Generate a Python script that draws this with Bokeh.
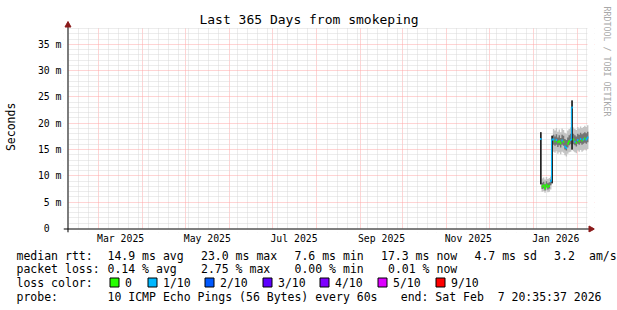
import pandas as pd
from bokeh.plotting import figure
from bokeh.layouts import column
from bokeh.models import Range1d, FixedTicker, LinearAxis, ColumnDataSource
from bokeh.core.properties import value
from bokeh.embed import file_html
from bokeh.resources import INLINE

# ---------------- data ----------------
graph_start = "2025-02-07 20:35:37"
graph_end = "2026-02-07 20:35:37"
y_max = 38

step_starts = list(pd.date_range("2026-01-05 12:00", "2026-02-07 12:00", freq="D"))
median_ms = [17.0,
             8.0, 8.2, 7.6, 8.3, 7.9, 8.1, 9.0,
             16.9,
             16.9, 16.6, 16.8, 16.4, 16.6, 16.2, 16.7, 16.5, 15.6, 15.3, 16.1, 16.6, 16.8,
             23.0,
             16.9, 16.5, 16.3, 16.8, 16.6, 17.0, 16.7, 16.9, 17.1, 16.9, 17.3]
loss_idx = [1,
            0, 0, 0, 0, 0, 0, 1,
            1,
            1, 0, 1, 0, 0, 0, 1, 0, 1, 1, 0, 0, 1,
            1,
            0, 1, 0, 1, 0, 1, 0, 1, 0, 1, 1]
smoke_lo = [8.4,
            7.0, 7.1, 6.8, 7.2, 6.9, 7.0, 7.4,
            8.6,
            14.6, 14.4, 14.7, 14.2, 14.5, 14.1, 14.6, 14.4, 13.9, 13.7, 14.2, 14.5, 14.6,
            15.0,
            14.7, 14.5, 14.3, 14.8, 14.6, 14.9, 14.6, 14.8, 15.0, 14.8, 15.1]
smoke_hi = [18.3,
            9.5, 9.7, 9.3, 9.8, 9.4, 9.6, 9.9,
            17.6,
            18.9, 18.6, 19.1, 18.4, 18.8, 18.3, 19.0, 18.7, 18.2, 18.0, 18.6, 18.9, 19.2,
            24.3,
            19.2, 18.9, 18.7, 19.3, 19.0, 19.4, 19.1, 19.3, 19.5, 19.3, 19.6]
core_lo = [8.4,
           7.5, 7.6, 7.2, 7.8, 7.4, 7.6, 8.2,
           8.6,
           15.9, 15.7, 15.9, 15.5, 15.8, 15.4, 15.9, 15.7, 15.0, 14.8, 15.4, 15.8, 16.0,
           15.0,
           16.0, 15.8, 15.6, 16.1, 15.9, 16.2, 15.9, 16.1, 16.3, 16.1, 16.4]
core_hi = [18.3,
           8.7, 8.9, 8.4, 9.0, 8.6, 8.8, 9.3,
           17.6,
           17.8, 17.5, 17.9, 17.3, 17.7, 17.2, 17.8, 17.6, 17.0, 16.8, 17.3, 17.7, 18.0,
           24.3,
           18.0, 17.7, 17.5, 18.0, 17.8, 18.2, 17.9, 18.1, 18.3, 18.1, 18.4]
wide_starts = ["2026-01-05 12:00", "2026-01-13 12:00", "2026-01-27 12:00"]
wide_lo = [8.4, 8.6, 15.0]
wide_hi = [18.3, 17.6, 24.3]

loss_colors = ['#26ff00', '#00b8ff', '#0059ff', '#5e00ff', '#7e00ff', '#dd00ff', '#ff0000']
loss_labels = ["0", "1/10", "2/10", "3/10", "4/10", "5/10", "9/10"]

y_ticks = [0, 5, 10, 15, 20, 25, 30, 35]
y_tick_labels = ["0\u00a0\u00a0", "5 m", "10 m", "15 m", "20 m", "25 m", "30 m", "35 m"]
x_label_months = ["2025-03", "2025-05", "2025-07", "2025-09", "2025-11", "2026-01"]
x_tick_labels = ["Mar 2025", "May 2025", "Jul 2025", "Sep 2025", "Nov 2025", "Jan 2026"]

title_text = "Last 365 Days from smokeping"
y_unit_text = "Seconds"
watermark_text = "RRDTOOL / TOBI OETIKER"
rtt_items = ["median rtt:", "14.9 ms avg", "23.0 ms max", "7.6 ms min",
             "17.3 ms now", "4.7 ms sd", "3.2", "am/s"]
loss_items = ["packet loss:", "0.14 % avg", "2.75 % max", "0.00 % min", "0.01 % now"]
color_head = "loss color:"
probe_items = ["probe:", "10 ICMP Echo Pings (56 Bytes) every 60s",
               "end: Sat Feb\u00a0\u00a07 20:35:37 2026"]

# ---------------- layout (canvas pixels) ----------------
W = 617
MAIN_H, LEG_H = 248, 62
PL, PR, PT, PB = 67, 587, 28, 228          # plot area
FL, FR, FT, FB = 62, 594, 0, 232           # bokeh frame
MONO = "DejaVu Sans Mono"
arrow_col = "#8b1a1a"
NB = "\u00a0"


def to_ms(t):
    return int((pd.Timestamp(t) - pd.Timestamp("1970-01-01")) / pd.Timedelta(milliseconds=1))


t0, t1 = to_ms(graph_start), to_ms(graph_end)
ms_per_px = (t1 - t0) / (PR - PL)
m_per_px = y_max / (PB - PT)


def cx(px):
    return t0 + (px - PL) * ms_per_px


def cy(py):
    return (PB - py) * m_per_px


# grid positions
month_starts = []
m = pd.Timestamp(graph_start).normalize().replace(day=1) + pd.offsets.MonthBegin(1)
while m <= pd.Timestamp(graph_end):
    month_starts.append(to_ms(m))
    m = m + pd.offsets.MonthBegin(1)
week_lines = []
gs = pd.Timestamp(graph_start)
d = gs.normalize() + pd.Timedelta(days=((5 - gs.weekday()) % 7) or 7)
while d <= pd.Timestamp(graph_end):
    v = to_ms(d)
    if all(abs(v - ms) > 86400000 for ms in month_starts):
        week_lines.append(v)
    d = d + pd.Timedelta(days=7)

label_pos = []
for ym in x_label_months:
    a = pd.Timestamp(ym + "-01")
    b = a + pd.offsets.MonthBegin(1)
    label_pos.append((to_ms(a) + to_ms(b)) // 2)

p = figure(width=W, height=MAIN_H, x_axis_type="datetime",
           x_range=Range1d(cx(FL), cx(FR)), y_range=Range1d(cy(FB), cy(FT)),
           output_backend="svg", toolbar_location=None,
           min_border_left=FL, min_border_right=W - FR,
           min_border_top=FT, min_border_bottom=MAIN_H - FB,
           background_fill_color="white", border_fill_color="white",
           outline_line_color=None, frame_align=False)

# grids
p.xgrid.ticker = FixedTicker(ticks=month_starts, minor_ticks=week_lines)
p.ygrid.ticker = FixedTicker(ticks=[v for v in range(5, y_max + 1, 5)],
                             minor_ticks=[v for v in range(1, y_max + 1) if v % 5])
for g in (p.xgrid, p.ygrid):
    g.grid_line_color = "#ffa8a8"
    g.grid_line_dash = "1 1"
    g.grid_line_width = 1
    g.minor_grid_line_color = "#d9d9d9"
    g.minor_grid_line_dash = "1 1"
    g.minor_grid_line_width = 1

# axes
xax = p.below[0]
yax = p.left[0]
xax.ticker = FixedTicker(ticks=label_pos)
xax.major_label_overrides = {v: t for v, t in zip(label_pos, x_tick_labels)}
yax.ticker = FixedTicker(ticks=y_ticks)
yax.major_label_overrides = {v: t for v, t in zip(y_ticks, y_tick_labels)}
for ax in (xax, yax):
    ax.axis_line_color = None
    ax.minor_tick_line_color = None
    ax.major_tick_line_color = None
    ax.major_tick_out = 0
    ax.major_tick_in = 0
    ax.major_label_text_font = MONO
    ax.major_label_text_font_size = "9.8px"
    ax.major_label_text_color = "black"
xax.major_label_standoff = 0
yax.major_label_standoff = FL - 60
# axis labels are centred on the frame; trailing no-break spaces shift the
# visible words to the same place as in the reference
yax.axis_label = y_unit_text + NB * 3
yax.axis_label_text_font = MONO
yax.axis_label_text_font_size = "11.5px"
yax.axis_label_text_font_style = "normal"
yax.axis_label_text_color = "black"
yax.axis_label_standoff = 17

rax = LinearAxis(ticker=FixedTicker(ticks=[]),
                 axis_label=watermark_text + NB * 22, axis_line_color=None,
                 major_tick_line_color=None, minor_tick_line_color=None,
                 major_tick_out=0, major_tick_in=0, major_label_standoff=0,
                 axis_label_standoff=7, axis_label_text_font=MONO,
                 axis_label_text_font_size="8.3px", axis_label_text_font_style="normal",
                 axis_label_text_color="#a8a8a8")
p.add_layout(rax, "right")

# white margins around the plot area (frame is larger to hold axis arrows & title)
p.quad(left=[cx(FL), cx(FL), cx(FL), t1], right=[cx(FR), cx(FR), t0, cx(FR)],
       bottom=[y_max + 0.5 * m_per_px, cy(FB), cy(FB), cy(FB)],
       top=[cy(FT), 0, cy(FT), cy(FT)], fill_color="white", line_color=None)

# data: smoke + median
starts = pd.to_datetime(step_starts)
ends = starts + pd.Timedelta(days=1)
xs_step = list(starts) + [ends[-1]]
p.varea_step(x=xs_step, y1=smoke_lo + [smoke_lo[-1]], y2=smoke_hi + [smoke_hi[-1]],
             step_mode="after", fill_color="#c4c4c4")
p.varea_step(x=xs_step, y1=core_lo + [core_lo[-1]], y2=core_hi + [core_hi[-1]],
             step_mode="after", fill_color="#747474")
ws = pd.to_datetime(wide_starts)
p.quad(left=ws, right=ws + pd.Timedelta(days=1), bottom=wide_lo, top=wide_hi,
       fill_color="#1c1c1c", line_color=None)

cols = [loss_colors[i] for i in loss_idx]
src = ColumnDataSource(dict(x0=starts, x1=ends, y=median_ms, c=cols))
p.segment(x0="x0", y0="y", x1="x1", y1="y", line_color="c", line_width=2, source=src)
# vertical joins only between consecutive steps of the same loss colour
jx, jy0, jy1, jc = [], [], [], []
for i in range(1, len(median_ms)):
    if loss_idx[i] == loss_idx[i - 1]:
        jx.append(starts[i]); jy0.append(median_ms[i - 1]); jy1.append(median_ms[i]); jc.append(cols[i])
p.segment(x0=jx, y0=jy0, x1=jx, y1=jy1, line_color=jc, line_width=1)

# axis lines with arrow heads
p.segment(x0=[cx(62), cx(66.5)], y0=[cy(228.5), cy(232)],
          x1=[cx(592), cx(66.5)], y1=[cy(228.5), cy(23)],
          line_color="black", line_width=1)
p.patches(xs=[[cx(594), cx(588.5), cx(588.5)], [cx(66.5), cx(63.5), cx(69.5)]],
          ys=[[cy(228.5), cy(225.5), cy(231.5)], [cy(21), cy(26.5), cy(26.5)]],
          fill_color=arrow_col, line_color=arrow_col)

# title
p.text(x=[cx(308)], y=[cy(19)], text=[title_text], text_font=value(MONO),
       text_font_size=value("13px"), text_align="center", text_baseline="middle",
       text_color="black")

# ---------------- legend strip ----------------
lf = figure(width=W, height=LEG_H, x_range=Range1d(0, W), y_range=Range1d(LEG_H, 0),
            output_backend="svg", toolbar_location=None,
            x_axis_location=None, y_axis_location=None,
            min_border=0, min_border_left=0, min_border_right=0,
            min_border_top=0, min_border_bottom=0,
            background_fill_color="white", border_fill_color="white",
            outline_line_color=None, frame_align=False)
lf.grid.visible = False


def ly(y):
    return y - MAIN_H


tx, ty, tt = [], [], []
for x, s in zip([16, 107, 200.5, 294, 380.5, 474, 553.6, 588.5], rtt_items):
    tx.append(x); ty.append(ly(255)); tt.append(s)
for x, s in zip([16, 107, 200.5, 294, 387.5], loss_items):
    tx.append(x); ty.append(ly(268.5)); tt.append(s)
tx.append(16); ty.append(ly(282)); tt.append(color_head)
box_x = [109.5, 147.5, 204.5, 262.5, 319.5, 377.5, 435.5]
for x, s in zip(box_x, loss_labels):
    tx.append(x + 15); ty.append(ly(282)); tt.append(s)
tx += [16, 107]; ty += [ly(296), ly(296)]; tt += probe_items[:2]
lf.text(x=tx, y=ty, text=tt, text_font=value(MONO), text_font_size=value("11.5px"),
        text_align="left", text_baseline="middle", text_color="black")
lf.text(x=[601], y=[ly(296)], text=[probe_items[2]], text_font=value(MONO),
        text_font_size=value("11.5px"), text_align="right", text_baseline="middle",
        text_color="black")
lf.quad(left=box_x, right=[b + 9 for b in box_x],
        top=[ly(277.5)] * len(box_x), bottom=[ly(286.5)] * len(box_x),
        fill_color=loss_colors, line_color="black", line_width=1)

layout = column(p, lf, spacing=0)
open("out.html", "w").write(file_html(layout, INLINE))
